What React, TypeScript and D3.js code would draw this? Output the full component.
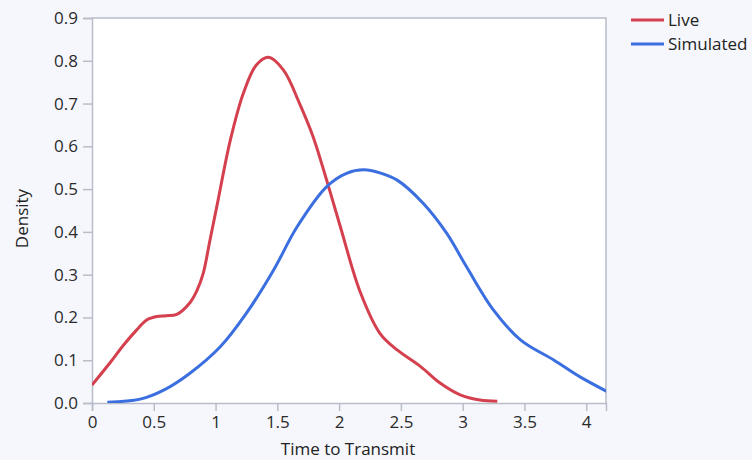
import React, { useEffect, useRef } from 'react';
import * as d3 from 'd3';

// density curves
const liveX = [0, 0.146, 0.254, 0.362, 0.443, 0.524, 0.6, 0.686, 0.794, 0.848, 0.9, 0.955, 1.01, 1.12, 1.225, 1.33, 1.43, 1.55, 1.68, 1.79, 1.9, 2.01, 2.17, 2.33, 2.47, 2.66, 2.82, 2.98, 3.14, 3.28];
const liveY = [0.042, 0.094, 0.135, 0.171, 0.194, 0.202, 0.204, 0.207, 0.235, 0.262, 0.303, 0.381, 0.459, 0.615, 0.724, 0.79, 0.808, 0.778, 0.7, 0.622, 0.52, 0.412, 0.26, 0.163, 0.124, 0.085, 0.046, 0.019, 0.007, 0.004];
const simX = [0.124, 0.39, 0.58, 0.79, 1.04, 1.25, 1.47, 1.66, 1.9, 2.06, 2.2, 2.33, 2.47, 2.68, 2.87, 3.03, 3.25, 3.47, 3.74, 3.95, 4.2];
const simY = [0.002, 0.009, 0.03, 0.069, 0.132, 0.21, 0.311, 0.412, 0.506, 0.537, 0.545, 0.538, 0.521, 0.467, 0.397, 0.319, 0.217, 0.147, 0.1, 0.061, 0.022];
const xTicks = [0, 0.5, 1, 1.5, 2, 2.5, 3, 3.5, 4];
const yTicks = [0, 0.1, 0.2, 0.3, 0.4, 0.5, 0.6, 0.7, 0.8, 0.9];
const seriesNames = ['Live', 'Simulated'];
const colors = ['#d5404f', '#3b6fe0'];

const W = 752, H = 460;
const left = 92, right = 606, top = 18, bottom = 403;
const font = '"Open Sans", "Noto Sans", sans-serif';
const fs = 17;

export default function App() {
  const ref = useRef<SVGSVGElement>(null);

  useEffect(() => {
    const svg = d3.select(ref.current);
    svg.selectAll('*').remove();

    const x = d3.scaleLinear().domain([0, 4.16]).range([left, right]);
    const y = d3.scaleLinear().domain([0, 0.9]).range([bottom, top]);

    svg.append('rect').attr('width', W).attr('height', H).attr('fill', '#f5f7fc');
    svg.append('rect')
      .attr('x', left).attr('y', top)
      .attr('width', right - left).attr('height', bottom - top)
      .attr('fill', '#fff');

    svg.append('defs').append('clipPath').attr('id', 'plot')
      .append('rect')
      .attr('x', left).attr('y', top - 5)
      .attr('width', right - left).attr('height', bottom - top + 5);

    const axisColor = '#b9bdc8';

    // frame (top and right)
    svg.append('path')
      .attr('d', `M${left},${top}H${right}V${bottom}`)
      .attr('fill', 'none').attr('stroke', axisColor).attr('stroke-width', 1.5);

    const xAxis = svg.append('g')
      .attr('transform', `translate(0,${bottom})`)
      .call(d3.axisBottom(x).tickValues(xTicks).tickSize(8).tickPadding(5).tickFormat(d3.format('')));
    const yAxis = svg.append('g')
      .attr('transform', `translate(${left},0)`)
      .call(d3.axisLeft(y).tickValues(yTicks).tickSize(9).tickPadding(5).tickFormat(d3.format('.1f')));

    [xAxis, yAxis].forEach(g => {
      g.select('.domain').attr('stroke', axisColor).attr('stroke-width', 1.5);
      g.selectAll('.tick line').attr('stroke', axisColor).attr('stroke-width', 1.5);
      g.selectAll('.tick text')
        .attr('fill', '#2b2b2b').attr('font-size', fs).attr('font-family', font);
    });

    const line = d3.line<[number, number]>()
      .x(d => x(d[0])).y(d => y(d[1]))
      .curve(d3.curveCatmullRom.alpha(0.5));

    const series = [
      liveX.map((v, i) => [v, liveY[i]] as [number, number]),
      simX.map((v, i) => [v, simY[i]] as [number, number]),
    ];

    svg.append('g').attr('clip-path', 'url(#plot)')
      .selectAll('path')
      .data(series)
      .join('path')
      .attr('d', d => line(d))
      .attr('fill', 'none')
      .attr('stroke', (d, i) => colors[i])
      .attr('stroke-width', 3);

    svg.append('text')
      .attr('transform', `translate(28,${(top + bottom) / 2 + 8}) rotate(-90)`)
      .attr('text-anchor', 'middle')
      .attr('font-family', font).attr('font-size', fs).attr('fill', '#222')
      .text('Density');

    svg.append('text')
      .attr('x', 348).attr('y', 455)
      .attr('text-anchor', 'middle')
      .attr('font-family', font).attr('font-size', fs).attr('fill', '#222')
      .text('Time to Transmit');

    const legend = svg.append('g')
      .selectAll('g')
      .data(seriesNames)
      .join('g')
      .attr('transform', (d, i) => `translate(631,${20 + i * 24})`);
    legend.append('line')
      .attr('x1', 0).attr('x2', 33)
      .attr('stroke', (d, i) => colors[i]).attr('stroke-width', 3);
    legend.append('text')
      .attr('x', 37).attr('dy', '0.35em')
      .attr('font-family', font).attr('font-size', fs).attr('fill', '#222')
      .text(d => d);
  }, []);

  return <svg ref={ref} width={W} height={H} style={{ position: 'absolute', left: 0, top: 0 }} />;
}
